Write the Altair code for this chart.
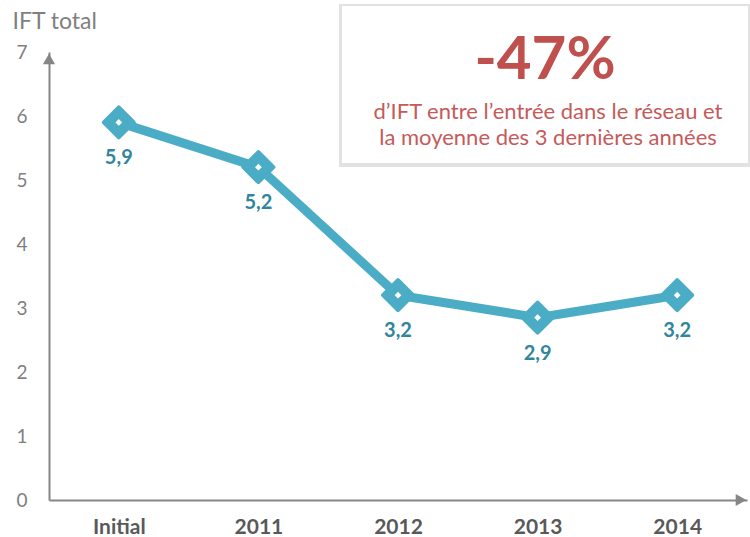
import altair as alt
import pandas as pd

categories = ["Initial", "2011", "2012", "2013", "2014"]
ift_values = [5.9, 5.2, 3.2, 2.85, 3.2]
value_labels = ["5,9", "5,2", "3,2", "2,9", "3,2"]
y_ticks = [0, 1, 2, 3, 4, 5, 6, 7]
axis_title = "IFT total"
headline = "-47%"
caption_lines = ["d’IFT entre l’entrée dans le réseau et", "la moyenne des 3 dernières années"]

FONT = "Lato"
LINE_COLOR = "#4BACC6"
LABEL_COLOR = "#31859C"
AXIS_COLOR = "#868686"
RED = "#C0504D"

W, H = 698, 448

df = pd.DataFrame({"cat": categories, "val": ift_values, "lbl": value_labels})

x_enc = alt.X(
    "cat:N", sort=categories,
    scale=alt.Scale(type="point", padding=0.5),
    axis=alt.Axis(title=None, labelAngle=0, labelFont=FONT, labelFontSize=21,
                  labelFontWeight="bold", labelColor="#595959", ticks=False,
                  labelPadding=16, domainColor=AXIS_COLOR, domainWidth=2, grid=False),
)
y_enc = alt.Y(
    "val:Q",
    scale=alt.Scale(domain=[0, 7], nice=False, zero=True),
    axis=alt.Axis(values=y_ticks, title=axis_title, titleAngle=0, titleX=-37, titleY=-24,
                  titleAlign="left", titleBaseline="alphabetic", titleFont=FONT,
                  titleFontSize=23, titleFontWeight="normal", titleColor="#7f7f7f",
                  labelFont=FONT, labelFontSize=19, labelColor="#7f7f7f", ticks=False,
                  labelPadding=22, domainColor=AXIS_COLOR, domainWidth=2, grid=False),
)

base = alt.Chart(df).encode(x=x_enc, y=y_enc)

line = base.mark_line(color=LINE_COLOR, strokeWidth=9)
markers = base.mark_point(shape="diamond", filled=True, size=900, color=LINE_COLOR,
                          stroke=LINE_COLOR, strokeWidth=4, strokeJoin="round", opacity=1)
inner = base.mark_point(shape="diamond", filled=True, size=45, color="white", opacity=1)
labels = base.mark_text(dy=36, fontSize=20, fontWeight="bold", color=LABEL_COLOR,
                        font=FONT).encode(text="lbl:N")

one = pd.DataFrame({"a": [0]})
arrow_up = alt.Chart(one).mark_point(shape="triangle-up", filled=True, size=150,
                                     color=AXIS_COLOR, opacity=1).encode(
    x=alt.value(0), y=alt.value(7))
arrow_right = alt.Chart(one).mark_point(shape="triangle-right", filled=True, size=150,
                                        color=AXIS_COLOR, opacity=1).encode(
    x=alt.value(W - 6), y=alt.value(H))

shadow = alt.Chart(one).mark_rect(color="#e2e2e2", opacity=1).encode(
    x=alt.value(290), x2=alt.value(702), y=alt.value(-48), y2=alt.value(115))
box = alt.Chart(one).mark_rect(color="white", opacity=1).encode(
    x=alt.value(293), x2=alt.value(699), y=alt.value(-46), y2=alt.value(111))

head = alt.Chart(pd.DataFrame({"t": [headline]})).mark_text(
    font=FONT, fontSize=60, fontWeight="bold", color=RED, align="center",
    baseline="alphabetic").encode(x=alt.value(496), y=alt.value(27), text="t:N")
cap1 = alt.Chart(pd.DataFrame({"t": [caption_lines[0]]})).mark_text(
    font=FONT, fontSize=22, color="#C55A5A", align="center",
    baseline="alphabetic").encode(x=alt.value(499), y=alt.value(67), text="t:N")
cap2 = alt.Chart(pd.DataFrame({"t": [caption_lines[1]]})).mark_text(
    font=FONT, fontSize=22, color="#C55A5A", align="center",
    baseline="alphabetic").encode(x=alt.value(499), y=alt.value(93), text="t:N")

chart = alt.layer(
    line, markers, inner, labels, arrow_up, arrow_right, shadow, box, head, cap1, cap2
).properties(
    width=W, height=H,
    autosize=alt.AutoSizeParams(type="none"),
    padding={"left": 49, "top": 52, "right": 3, "bottom": 37},
    background="white",
).configure_view(stroke=None)

chart.save("out.html", embed_options={"renderer": "svg", "actions": False})
